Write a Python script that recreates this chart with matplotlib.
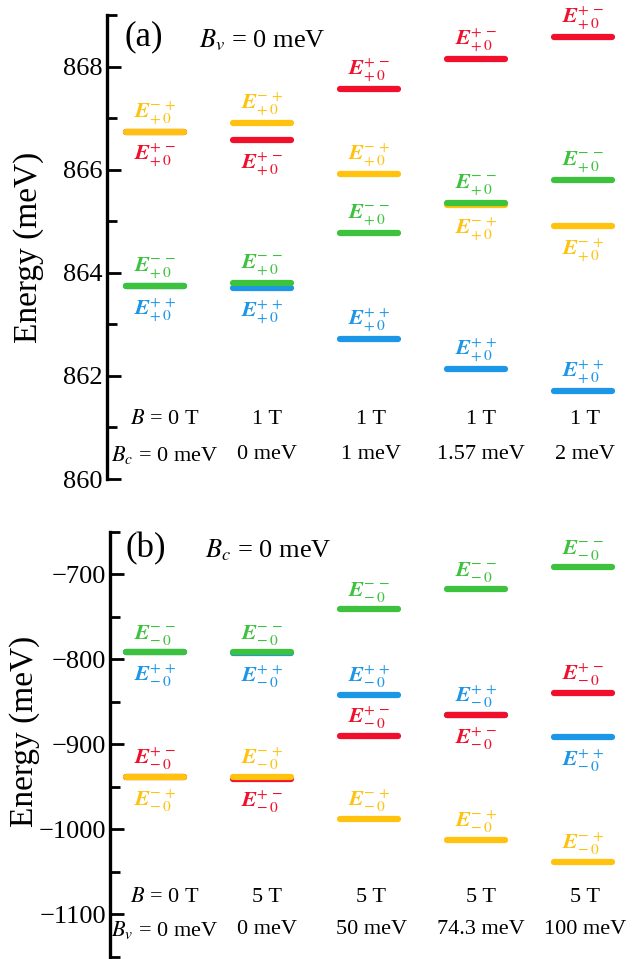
import numpy as np
import matplotlib
matplotlib.use("Agg")
import matplotlib.pyplot as plt

plt.rcParams['font.family'] = ['Liberation Serif', 'DejaVu Serif']
plt.rcParams['mathtext.fontset'] = 'stix'

# columns (one per parameter set)
cols = np.array([1, 2, 3, 4, 5])

# panel (a): E_{+0} levels (meV)
a_blue = [863.75, 863.70, 862.71, 862.14, 861.71]    # E^{++}
a_red = [866.74, 866.58, 867.57, 868.14, 868.58]     # E^{+-}
a_yellow = [866.74, 866.91, 865.91, 865.32, 864.91]  # E^{-+}
a_green = [863.75, 863.80, 864.78, 865.36, 865.79]   # E^{--}
a_row1 = [r'$B$ = 0 T', '1 T', '1 T', '1 T', '1 T']
a_row2 = [r'$B_c$ = 0 meV', '0 meV', '1 meV', '1.57 meV', '2 meV']

# panel (b): E_{-0} levels (meV)
b_blue = [-792, -793, -841.6, -866.2, -891.7]
b_red = [-939, -941, -890.5, -866.2, -840]
b_yellow = [-939, -939, -988.2, -1012.8, -1038.3]
b_green = [-792, -792, -741.5, -717.2, -691.4]
b_row1 = [r'$B$ = 0 T', '5 T', '5 T', '5 T', '5 T']
b_row2 = [r'$B_v$ = 0 meV', '0 meV', '50 meV', '74.3 meV', '100 meV']

colors = {'blue': '#1C96E6', 'red': '#F20F2B', 'yellow': '#FFC20E', 'green': '#3DC23D'}
sups = {'blue': r'+\,+', 'red': r'+\,-', 'yellow': r'-\,+', 'green': r'-\,-'}

# label side: +1 above the line, -1 below
a_side = {'blue': [-1, -1, 1, 1, 1], 'red': [-1, -1, 1, 1, 1],
          'yellow': [1, 1, 1, -1, -1], 'green': [1, 1, 1, 1, 1]}
b_side = {'blue': [-1, -1, 1, 1, -1], 'red': [1, -1, 1, -1, 1],
          'yellow': [-1, 1, 1, 1, 1], 'green': [1, 1, 1, 1, 1]}

fig = plt.figure(figsize=(6.43, 9.59), dpi=100)
ax_a = fig.add_axes([107/643, 1-479/959, 523/643, 464/959])
ax_b = fig.add_axes([110/643, 1-956.7/959, 520/643, 425/959])

hw = 0.27
row_dx = [0.09, 0.05, 0.02, 0.05, 0.02]


def draw(ax, levels, side, sub, row1, row2, rowy):
    for name in ['blue', 'red', 'yellow', 'green']:
        vals = levels[name]
        for i, (x, y) in enumerate(zip(cols, vals)):
            ax.plot([x - hw, x + hw], [y, y], color=colors[name], lw=4.5,
                    solid_capstyle='round', zorder=2)
            s = side[name][i]
            lab = r'$\mathbfit{E}^{%s}_{%s}$' % (sups[name], sub)
            ax.annotate(lab, (x, y), xytext=(0, 5 if s > 0 else -10),
                        textcoords='offset pixels', ha='center',
                        va='bottom' if s > 0 else 'top',
                        color=colors[name], fontsize=16)
    for i, x in enumerate(cols):
        ax.text(x + row_dx[i], rowy[0], row1[i], ha='center', va='center', fontsize=16)
        ax.text(x + row_dx[i], rowy[1], row2[i], ha='center', va='center', fontsize=16)
    for sp in ['top', 'right', 'bottom']:
        ax.spines[sp].set_visible(False)
    ax.spines['left'].set_linewidth(2.4)
    ax.set_xticks([])
    ax.tick_params(axis='y', which='major', direction='in', length=10, width=2,
                   labelsize=19, pad=3)
    ax.tick_params(axis='y', which='minor', direction='in', length=7, width=2)
    ax.set_ylabel('Energy (meV)', fontsize=24)


draw(ax_a, {'blue': a_blue, 'red': a_red, 'yellow': a_yellow, 'green': a_green},
     a_side, r'+\,0', a_row1, a_row2, (861.15, 860.47))
ax_a.set_xlim(1 - 48/107, 1 - 48/107 + 523/107)
ax_a.set_ylim(860, 869)
ax_a.set_yticks([860, 862, 864, 866, 868])
ax_a.set_yticks(np.arange(861, 870, 2), minor=True)
ax_a.yaxis.set_label_coords(-0.12, 0.5)
ax_a.text(0.034, 0.953, '(a)', transform=ax_a.transAxes, fontsize=25, va='center')
ax_a.text(0.176, 0.946, r'$B_v$ = 0 meV', transform=ax_a.transAxes, fontsize=19, va='center')

draw(ax_b, {'blue': b_blue, 'red': b_red, 'yellow': b_yellow, 'green': b_green},
     b_side, r'-\,0', b_row1, b_row2, (-1080.9, -1118.4))
ax_b.set_xlim(1 - 45/107, 1 - 45/107 + 520/107)
ax_b.set_ylim(-1150, -650)
ax_b.set_yticks([-1100, -1000, -900, -800, -700])
ax_b.set_yticks(np.arange(-1150, -640, 100), minor=True)
ax_b.yaxis.set_label_coords(-0.135, 0.53)
ax_b.text(0.029, 0.959, '(b)', transform=ax_b.transAxes, fontsize=25, va='center')
ax_b.text(0.183, 0.957, r'$B_c$ = 0 meV', transform=ax_b.transAxes, fontsize=19, va='center')

fig.savefig('out.png', dpi=100)
